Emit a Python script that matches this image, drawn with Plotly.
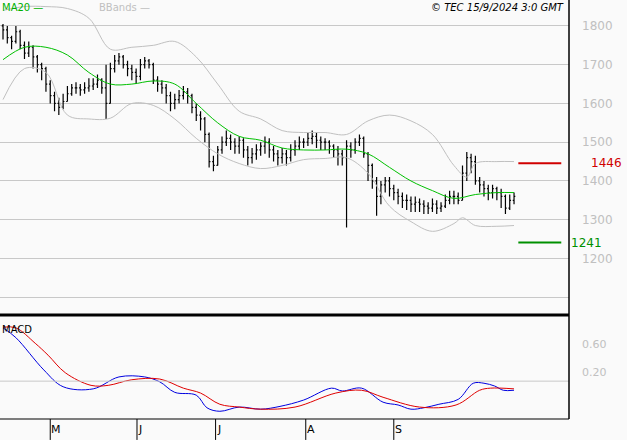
import plotly.graph_objects as go

close = [1790,1770,1760,1785,1750,1730,1745,1720,1700,1690,1650,1620,1600,1590,1605,
1625,1640,1640,1635,1640,1645,1650,1660,1640,1600,1690,1710,1720,1700,1690,
1680,1670,1700,1710,1700,1660,1650,1640,1620,1600,1610,1620,1630,1620,1590,
1570,1560,1520,1450,1440,1480,1500,1510,1500,1490,1505,1480,1460,1470,1480,
1490,1500,1480,1470,1460,1470,1460,1480,1490,1500,1500,1510,1515,1505,1500,
1500,1490,1480,1470,1460,1490,1480,1500,1510,1470,1440,1400,1360,1390,1400,
1380,1370,1360,1350,1350,1340,1345,1340,1335,1330,1340,1330,1335,1350,1360,
1360,1350,1420,1460,1450,1400,1390,1380,1370,1380,1370,1360,1330,1350,1360]
opens = [1800,1790,1770,1760,1785,1750,1730,1745,1720,1700,1690,1650,1620,1600,1590,
1605,1625,1640,1640,1635,1640,1645,1650,1660,1640,1600,1690,1710,1720,1700,
1690,1680,1670,1700,1710,1700,1660,1650,1640,1620,1600,1610,1620,1630,1620,
1590,1570,1560,1520,1450,1440,1480,1500,1510,1500,1490,1505,1480,1460,1470,
1480,1490,1500,1480,1470,1460,1470,1460,1480,1490,1500,1500,1510,1515,1505,
1500,1500,1490,1480,1470,1460,1490,1480,1500,1510,1470,1440,1400,1360,1390,
1400,1380,1370,1360,1350,1350,1340,1345,1340,1335,1330,1340,1330,1335,1350,
1360,1360,1350,1420,1460,1450,1400,1390,1380,1370,1380,1370,1360,1330,1350]
high = [1805,1800,1775,1800,1790,1760,1760,1750,1725,1705,1695,1660,1630,1615,1625,
1645,1650,1655,1650,1655,1665,1665,1675,1665,1700,1705,1725,1730,1725,1710,
1700,1690,1715,1720,1715,1705,1670,1660,1650,1630,1625,1635,1645,1640,1625,
1600,1580,1565,1525,1465,1490,1515,1530,1520,1510,1515,1510,1490,1485,1495,
1500,1515,1510,1490,1480,1485,1480,1495,1505,1515,1510,1525,1530,1525,1515,
1510,1505,1495,1490,1480,1505,1500,1510,1520,1515,1475,1445,1410,1400,1410,
1410,1390,1380,1370,1365,1360,1360,1355,1350,1345,1355,1350,1345,1365,1375,
1375,1370,1440,1475,1470,1465,1410,1400,1390,1390,1385,1380,1365,1365,1370]
low = [1765,1755,1740,1755,1740,1715,1720,1690,1680,1660,1630,1600,1580,1570,1585,
1605,1620,1625,1620,1625,1630,1635,1640,1625,1560,1600,1680,1700,1690,1670,
1660,1650,1660,1690,1690,1650,1630,1625,1600,1580,1585,1600,1610,1600,1575,
1555,1530,1500,1435,1425,1440,1470,1490,1480,1470,1470,1460,1440,1445,1455,
1465,1470,1460,1450,1440,1445,1440,1450,1465,1480,1485,1490,1495,1485,1480,
1480,1470,1460,1440,1440,1280,1460,1470,1490,1460,1400,1380,1310,1340,1370,
1360,1350,1340,1330,1325,1320,1320,1320,1315,1315,1320,1315,1320,1330,1340,
1340,1340,1350,1400,1420,1390,1370,1360,1350,1355,1350,1330,1315,1325,1340]

ind_x = [0,5,10,15,20,25,30,35,40,45,50,55,60,65,70,75,80,85,90,95,100,105,110,115,119]
ma20 = [1713,1745,1745,1725,1680,1650,1650,1658,1650,1600,1550,1515,1505,1485,1480,1480,1482,1470,1435,1400,1375,1355,1365,1370,1370]
bb_up_x = [0,5,10,15,20,25,30,35,40,45,50,55,60,65,70,75,80,85,90,95,100,105,108,110,115,119]
bb_up = [1840,1850,1850,1845,1820,1740,1745,1750,1760,1720,1650,1580,1560,1530,1525,1525,1520,1555,1570,1555,1520,1440,1410,1445,1450,1450]
bb_lo_x = [0,5,10,15,20,25,30,35,40,45,50,55,60,65,70,75,80,85,90,95,100,105,107,110,115,119]
bb_lo = [1610,1690,1680,1570,1560,1562,1600,1595,1560,1510,1470,1445,1432,1440,1455,1458,1460,1420,1335,1295,1270,1290,1305,1285,1283,1285]

macd_x = [0,3,9.5,14,21,27,33,36.5,40,45,47.5,50.5,55,60,64.5,70,76.5,79,83.5,88.5,92,95,98,101.5,106,109.5,112,114.5,116.5,119]
macd = [0.83,0.69,0.23,-0.01,-0.04,0.13,0.13,0.06,-0.09,-0.13,-0.31,-0.36,-0.30,-0.33,-0.29,-0.20,-0.03,-0.07,-0.03,-0.23,-0.27,-0.33,-0.31,-0.26,-0.19,0.04,0.04,0.00,-0.06,-0.06]
sig_x = [0,3,7.5,10.5,14.5,20.5,24.5,30,36.5,42,46,50.5,55,60,68,77.5,83.5,88.5,97,105.5,111,113.5,119]
signal = [0.84,0.83,0.61,0.44,0.19,0.01,0.01,0.09,0.10,-0.03,-0.10,-0.26,-0.30,-0.33,-0.30,-0.10,-0.06,-0.16,-0.30,-0.27,-0.06,-0.03,-0.04]

month_pos = [11, 31.2, 49.5, 70.5, 91]
month_lbl = ["M", "J", "J", "A", "S"]
resist, support = 1446, 1241

x = list(range(len(close)))
fig = go.Figure()
fig.add_trace(go.Scatter(x=bb_up_x, y=bb_up, mode="lines", line=dict(color="#c0c0c0", width=1, shape="spline"), yaxis="y"))
fig.add_trace(go.Scatter(x=bb_lo_x, y=bb_lo, mode="lines", line=dict(color="#c0c0c0", width=1, shape="spline"), yaxis="y"))
fig.add_trace(go.Scatter(x=ind_x, y=ma20, mode="lines", line=dict(color="#00c000", width=1, shape="spline"), yaxis="y"))
fig.add_trace(go.Ohlc(x=x, open=opens, high=high, low=low, close=close, yaxis="y",
                      increasing_line_color="black", decreasing_line_color="black",
                      line=dict(width=1.2), tickwidth=0.3))
fig.add_trace(go.Scatter(x=macd_x, y=macd, mode="lines", line=dict(color="#0000e0", width=1, shape="spline"), yaxis="y2"))
fig.add_trace(go.Scatter(x=sig_x, y=signal, mode="lines", line=dict(color="#e00000", width=1, shape="spline"), yaxis="y2"))

shapes = [
    dict(type="line", xref="x", yref="y", x0=120, x1=130, y0=resist, y1=resist, line=dict(color="#d00000", width=2)),
    dict(type="line", xref="x", yref="y", x0=120, x1=130, y0=support, y1=support, line=dict(color="#009000", width=2)),
    dict(type="line", xref="paper", yref="paper", x0=0, x1=1, y0=0.2485, y1=0.2485, line=dict(color="black", width=3)),
    dict(type="line", xref="x", yref="y2", x0=-1, x1=140, y0=0.07, y1=0.07, line=dict(color="#c8c8c8", width=1)),
    dict(type="line", xref="paper", yref="paper", x0=1, x1=1, y0=0, y1=1, line=dict(color="black", width=1.5)),
    dict(type="line", xref="paper", yref="paper", x0=0, x1=1, y0=0, y1=0, line=dict(color="black", width=1)),
]
for p in month_pos:
    shapes.append(dict(type="line", xref="x", yref="paper", x0=p, x1=p, y0=0, y1=-0.05, line=dict(color="black", width=1)))

ann = [
    dict(text="MA20 —", x=0, y=1, xref="paper", yref="paper", xanchor="left", yanchor="top", showarrow=False, font=dict(color="#00b000", size=10)),
    dict(text="BBands —", x=0.17, y=1, xref="paper", yref="paper", xanchor="left", yanchor="top", showarrow=False, font=dict(color="#c0c0c0", size=10)),
    dict(text="<i>© TEC 15/9/2024 3:0 GMT</i>", x=0.995, y=1, xref="paper", yref="paper", xanchor="right", yanchor="top", showarrow=False, font=dict(color="black", size=10)),
    dict(text="MACD", x=0, y=0.232, xref="paper", yref="paper", xanchor="left", yanchor="top", showarrow=False, font=dict(color="black", size=10)),
    dict(text=str(resist), x=131.8, y=resist, xref="x", yref="y", xanchor="left", yanchor="middle", showarrow=False, font=dict(color="#d00000", size=12), xshift=20),
    dict(text=str(support), x=131.8, y=support, xref="x", yref="y", xanchor="left", yanchor="middle", showarrow=False, font=dict(color="#009000", size=12), xshift=0),
]
for p, l in zip(month_pos, month_lbl):
    ann.append(dict(text=l, x=p, y=0, xref="x", yref="paper", xanchor="left", yanchor="top", showarrow=False, font=dict(color="black", size=11), yshift=-2, xshift=-1))

fig.update_layout(
    width=627, height=440, margin=dict(l=0, r=58, t=0, b=21),
    paper_bgcolor="#fafafa", plot_bgcolor="#fafafa", showlegend=False,
    font=dict(family="DejaVu Sans"),
    xaxis=dict(range=[-0.7, 131.8], showgrid=False, showticklabels=False, zeroline=False, rangeslider=dict(visible=False), fixedrange=True),
    yaxis=dict(domain=[0.25, 1], range=[1056, 1867], side="right", tickvals=[1100, 1200, 1300, 1400, 1500, 1600, 1700, 1800],
               ticktext=["", "1200", "1300", "1400", "1500", "1600", "1700", "1800"],
               gridcolor="#c8c8c8", zeroline=False, tickfont=dict(color="#c0c0c0", size=12), ticks="", ticklabelstandoff=12),
    yaxis2=dict(domain=[0, 0.246], range=[-0.47, 1.0], side="right", tickvals=[0.2, 0.6], ticktext=["0.20", "0.60"],
                showgrid=False, zeroline=False, tickfont=dict(color="#c0c0c0", size=11), ticklabelstandoff=12),
    shapes=shapes, annotations=ann,
)
fig.write_html("out.html", config={"displayModeBar": False},
               post_script="document.body.style.margin='0';document.body.style.background='#fafafa';")
